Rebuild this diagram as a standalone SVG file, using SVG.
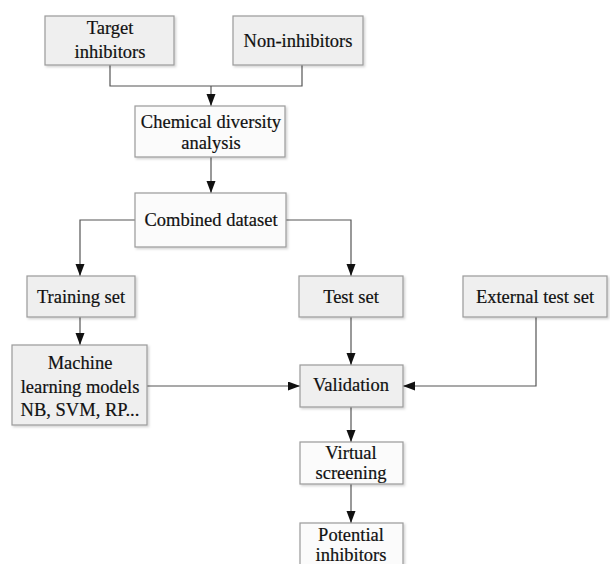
<svg xmlns="http://www.w3.org/2000/svg" width="610" height="564" viewBox="0 0 610 564">
  <defs>
    <marker id="arr" markerWidth="12" markerHeight="10" refX="12" refY="4.5" orient="auto" markerUnits="userSpaceOnUse">
      <path d="M0,0 L12,4.5 L0,9 Z" fill="#111"/>
    </marker>
    <filter id="sh" x="-10%" y="-10%" width="125%" height="130%">
      <feDropShadow dx="1.5" dy="1.5" stdDeviation="1" flood-color="#000" flood-opacity="0.18"/>
    </filter>
  </defs>
  <style>
    .box { fill: #efefef; stroke: #9a9a9a; stroke-width: 1.2; filter: url(#sh); }
    .wbox { fill: #fbfbfb; stroke: #9a9a9a; stroke-width: 1.2; filter: url(#sh); }
    text { font-family: "Liberation Serif", "Times New Roman", serif; font-size: 18.5px; fill: #111; stroke: #111; stroke-width: 0.2; text-anchor: middle; }
    .ln { fill: none; stroke: #555; stroke-width: 1.2; }
  </style>
  <rect width="610" height="564" fill="#ffffff"/>

  <g id="connectors">
    <path class="ln" d="M110,65 V86 H302 V65"/>
    <path class="ln" d="M211,86 V106" marker-end="url(#arr)"/>
    <path class="ln" d="M211,157 V193" marker-end="url(#arr)"/>
    <path class="ln" d="M135,220 H80 V276" marker-end="url(#arr)"/>
    <path class="ln" d="M286,220 H351 V276" marker-end="url(#arr)"/>
    <path class="ln" d="M80,317 V345" marker-end="url(#arr)"/>
    <path class="ln" d="M351,317 V365" marker-end="url(#arr)"/>
    <path class="ln" d="M147,386 H300" marker-end="url(#arr)"/>
    <path class="ln" d="M536,317 V386 H403" marker-end="url(#arr)"/>
    <path class="ln" d="M351,407 V442" marker-end="url(#arr)"/>
    <path class="ln" d="M351,484 V523" marker-end="url(#arr)"/>
  </g>

  <g id="target">
    <rect class="box" x="45" y="16" width="129" height="49"/>
    <text x="110" y="34">Target</text>
    <text x="110" y="58">inhibitors</text>
  </g>
  <g id="non">
    <rect class="box" x="233" y="16" width="130" height="49"/>
    <text x="298" y="47">Non-inhibitors</text>
  </g>
  <g id="chem">
    <rect class="wbox" x="135" y="106" width="150" height="51"/>
    <text x="211" y="128">Chemical diversity</text>
    <text x="211" y="149">analysis</text>
  </g>
  <g id="combined">
    <rect class="wbox" x="135" y="193" width="151" height="54"/>
    <text x="211" y="226">Combined dataset</text>
  </g>
  <g id="training">
    <rect class="box" x="27" y="276" width="108" height="41"/>
    <text x="81" y="303">Training set</text>
  </g>
  <g id="test">
    <rect class="box" x="299" y="276" width="104" height="41"/>
    <text x="351" y="303">Test set</text>
  </g>
  <g id="external">
    <rect class="box" x="463" y="276" width="144" height="41"/>
    <text x="535" y="303">External test set</text>
  </g>
  <g id="ml">
    <rect class="box" x="12" y="345" width="135" height="80"/>
    <text x="80" y="369">Machine</text>
    <text x="80" y="393">learning models</text>
    <text x="80" y="416">NB, SVM, RP...</text>
  </g>
  <g id="validation">
    <rect class="box" x="300" y="365" width="103" height="42"/>
    <text x="351" y="391">Validation</text>
  </g>
  <g id="virtual">
    <rect class="wbox" x="300" y="442" width="103" height="42"/>
    <text x="351" y="459">Virtual</text>
    <text x="351" y="479">screening</text>
  </g>
  <g id="potential">
    <rect class="wbox" x="300" y="523" width="103" height="50"/>
    <text x="351" y="541">Potential</text>
    <text x="351" y="561">inhibitors</text>
  </g>
</svg>
